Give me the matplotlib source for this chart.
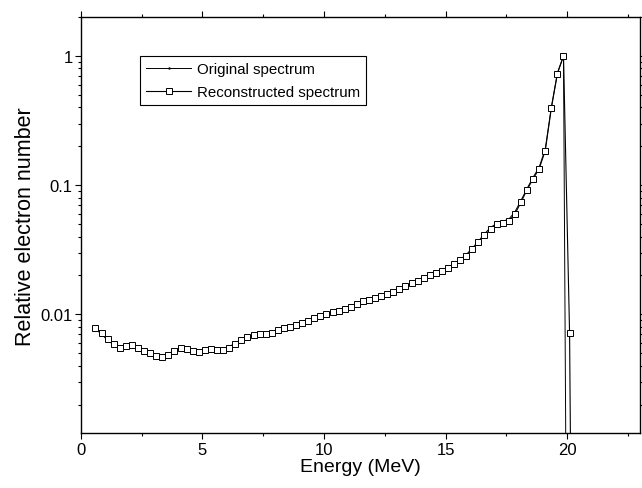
import numpy as np
import matplotlib.pyplot as plt
from matplotlib.ticker import MultipleLocator, FixedLocator, FixedFormatter, LogLocator, NullFormatter

plt.rcParams['font.family'] = ['Liberation Sans', 'DejaVu Sans']

# Energy grid (MeV)
energy = [0.60, 0.85, 1.10, 1.35, 1.60, 1.85, 2.10, 2.35, 2.60, 2.85,
          3.10, 3.35, 3.60, 3.85, 4.10, 4.35, 4.60, 4.85, 5.10, 5.35,
          5.60, 5.85, 6.10, 6.35, 6.60, 6.85, 7.10, 7.35, 7.60, 7.85,
          8.10, 8.35, 8.60, 8.85, 9.10, 9.35, 9.60, 9.85, 10.10, 10.35,
          10.60, 10.85, 11.10, 11.35, 11.60, 11.85, 12.10, 12.35, 12.60, 12.85,
          13.10, 13.35, 13.60, 13.85, 14.10, 14.35, 14.60, 14.85, 15.10, 15.35,
          15.60, 15.85, 16.10, 16.35, 16.60, 16.85, 17.10, 17.35, 17.60, 17.85,
          18.10, 18.35, 18.60, 18.85, 19.10, 19.35, 19.60, 19.85, 20.10, 20.35]

# Reconstructed spectrum (squares)
reconstructed = [0.0078, 0.0072, 0.0064, 0.0059, 0.0055, 0.0057, 0.0058, 0.0055, 0.0052, 0.0050,
                 0.00475, 0.0047, 0.0048, 0.0052, 0.0055, 0.0054, 0.0052, 0.0051, 0.0053, 0.0054,
                 0.0053, 0.0053, 0.0055, 0.0059, 0.0063, 0.0067, 0.0069, 0.0070, 0.0071, 0.0072,
                 0.0075, 0.0078, 0.0080, 0.0083, 0.0086, 0.0089, 0.0093, 0.0097, 0.0100, 0.0104,
                 0.0106, 0.0109, 0.0114, 0.0120, 0.0126, 0.0130, 0.0134, 0.0138, 0.0143, 0.0150,
                 0.0158, 0.0166, 0.0174, 0.0182, 0.0190, 0.0200, 0.0208, 0.0218, 0.0230, 0.0244,
                 0.0262, 0.0285, 0.0319, 0.0360, 0.0408, 0.0455, 0.0500, 0.0510, 0.0530, 0.0596,
                 0.0738, 0.092, 0.112, 0.134, 0.185, 0.395, 0.73, 1.0, 0.0072, 1e-8]

# Original spectrum (thin line)
original = [0.0077, 0.0070, 0.0063, 0.0058, 0.0056, 0.0056, 0.0057, 0.0055, 0.0052, 0.0050,
            0.0048, 0.0047, 0.0049, 0.0053, 0.0055, 0.0053, 0.0052, 0.0052, 0.0053, 0.0053,
            0.0053, 0.0054, 0.0056, 0.0060, 0.0064, 0.0066, 0.0069, 0.0070, 0.0071, 0.0073,
            0.0076, 0.0078, 0.0081, 0.0083, 0.0086, 0.0090, 0.0093, 0.0097, 0.0100, 0.0103,
            0.0107, 0.0110, 0.0115, 0.0119, 0.0125, 0.0131, 0.0135, 0.0139, 0.0144, 0.0150,
            0.0157, 0.0165, 0.0173, 0.0181, 0.0191, 0.0199, 0.0209, 0.0219, 0.0231, 0.0246,
            0.0265, 0.0290, 0.0325, 0.0368, 0.0420, 0.0470, 0.0505, 0.0525, 0.0545, 0.0620,
            0.0760, 0.094, 0.115, 0.138, 0.190, 0.40, 0.74, 1.0, 1e-8, 1e-8]

fig = plt.figure(figsize=(6.42, 4.89), dpi=100)
ax = fig.add_axes([0.126, 0.112, 0.871, 0.851])

ax.plot(energy, original, color='black', lw=0.7, marker='.', markersize=1.5,
        label='Original spectrum')
ax.plot(energy, reconstructed, color='black', lw=0.8, marker='s', markersize=4.5,
        markerfacecolor='white', markeredgewidth=0.7, label='Reconstructed spectrum')

ax.set_yscale('log')
ax.set_xlim(0, 23)
ax.set_ylim(0.0012, 2)

ax.xaxis.set_major_locator(MultipleLocator(5))
ax.xaxis.set_minor_locator(MultipleLocator(2.5))
ax.yaxis.set_major_locator(FixedLocator([0.01, 0.1, 1]))
ax.yaxis.set_major_formatter(FixedFormatter(['0.01', '0.1', '1']))
ax.yaxis.set_minor_locator(LogLocator(base=10, subs=np.arange(2, 10)))
ax.yaxis.set_minor_formatter(NullFormatter())

ax.tick_params(which='both', direction='out', top=True, right=True,
               labelsize=12, color='black')
ax.tick_params(which='major', length=4, width=0.8, pad=2)
ax.tick_params(which='minor', length=2.5, width=0.8)
for s in ax.spines.values():
    s.set_linewidth(1.0)

ax.set_xlabel('Energy (MeV)', fontsize=14, labelpad=1)
ax.set_ylabel('Relative electron number', fontsize=15.5, labelpad=3)

leg = ax.legend(loc='upper left', bbox_to_anchor=(0.106, 0.906), borderaxespad=0,
                fontsize=10.8, handlelength=3, fancybox=False, edgecolor='black',
                framealpha=1, borderpad=0.4, labelspacing=0.6, handletextpad=0.4)
leg.get_frame().set_linewidth(0.8)

plt.savefig('out.png', dpi=100)
